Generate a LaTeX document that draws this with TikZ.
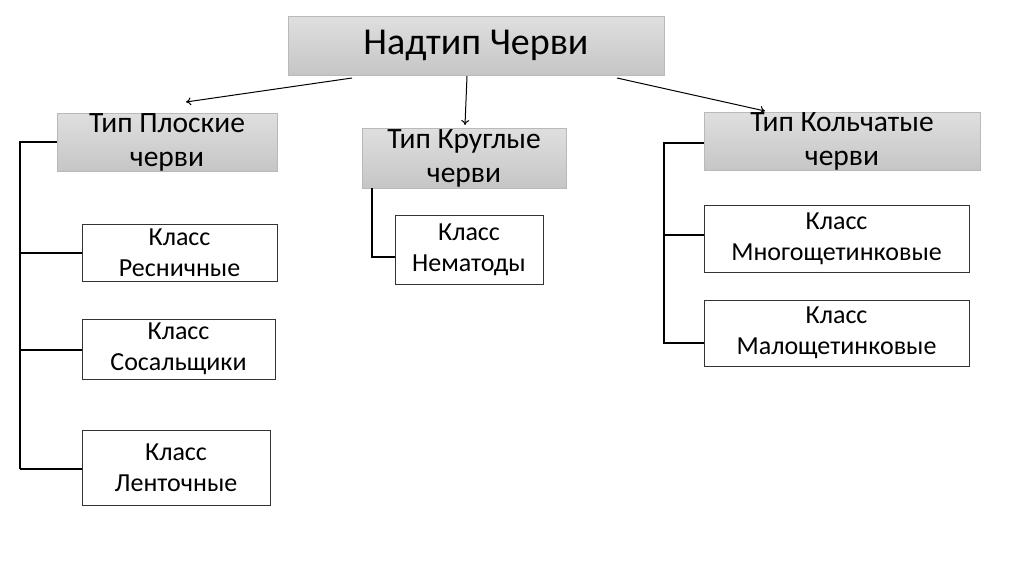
\documentclass[tikz,border=0pt]{standalone}
\usepackage{fontspec}
\setmainfont{Carlito}
\usetikzlibrary{arrows.meta,calc}
\begin{document}
\begin{tikzpicture}[x=1pt,y=-1pt,
  typebox/.style={draw=gray!55, line width=0.6pt, top color=gray!25, bottom color=gray!45,
    align=center, inner sep=0pt, font=\fontsize{29.5}{34}\selectfont},
  classbox/.style={draw=black!80, line width=0.8pt, fill=white, align=center, inner sep=0pt,
    font=\fontsize{26}{31}\selectfont},
  arr/.style={draw=black, line width=1pt, -{To[length=5pt,width=8pt]}},
  brk/.style={draw=black, line width=1.3pt}]
\useasboundingbox (0,0) rectangle (1024,574);
\fill[white] (0,0) rectangle (1024,574);
% top
\node[typebox, minimum width=376pt, minimum height=59pt, font=\fontsize{38}{44}\selectfont] (top) at (476,45.5) {Надтип Черви};
% types
\node[typebox, minimum width=220pt, minimum height=58pt] (t1) at (167,142) {Тип Плоские\\черви};
\node[typebox, minimum width=204pt, minimum height=60pt] (t2) at (464,158) {Тип Круглые\\черви};
\node[typebox, minimum width=276pt, minimum height=54pt] (t3) at (842,141) {Тип Кольчатые\\черви};
% classes
\node[classbox, minimum width=195pt, minimum height=57pt] (c1) at (179.5,252.5) {Класс\\Ресничные};
\node[classbox, minimum width=193pt, minimum height=60pt] (c2) at (178.5,349) {Класс\\Сосальщики};
\node[classbox, minimum width=188pt, minimum height=75pt] (c3) at (176,467.5) {Класс\\Ленточные};
\node[classbox, minimum width=148pt, minimum height=69pt] (c4) at (469,249.5) {Класс\\Нематоды};
\node[classbox, minimum width=265pt, minimum height=67pt] (c5) at (836.5,238.5) {Класс\\Многощетинковые};
\node[classbox, minimum width=265pt, minimum height=66pt] (c6) at (836.5,333) {Класс\\Малощетинковые};
% arrow coordinates
\coordinate (a1s) at (352,78); \coordinate (a1e) at (186,102);
\coordinate (a2s) at (467,76); \coordinate (a2e) at (465,125);
\coordinate (a3s) at (617,78); \coordinate (a3e) at (765,111);
\draw[arr] (a1s) -- (a1e);
\draw[arr] (a2s) -- (a2e);
\draw[arr] (a3s) -- (a3e);
% left bracket
\coordinate (L0) at (20,142);
\coordinate (L1) at (20,253);
\coordinate (L2) at (20,350);
\coordinate (L3) at (20,469);
\draw[brk] (t1.west) -- (L0) -- (L3);
\draw[brk] (L1) -- (c1.west |- L1);
\draw[brk] (L2) -- (c2.west |- L2);
\draw[brk] (L3) -- (c3.west |- L3);
% middle bracket
\coordinate (M0) at (372,188);
\coordinate (M1) at (372,257);
\draw[brk] (M0) -- (M1) -- (c4.west |- M1);
% right bracket
\coordinate (R0) at (664,143);
\coordinate (R1) at (664,235);
\coordinate (R2) at (664,343);
\draw[brk] (t3.west |- R0) -- (R0) -- (R2) -- (c6.west |- R2);
\draw[brk] (R1) -- (c5.west |- R1);
\end{tikzpicture}
\end{document}
